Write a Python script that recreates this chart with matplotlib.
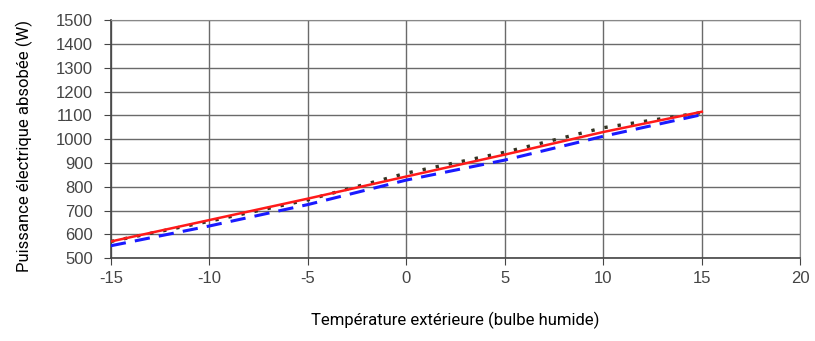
import matplotlib
matplotlib.use('Agg')
import matplotlib.pyplot as plt

plt.rcParams['axes.unicode_minus'] = False

# Data
temps = [-15, -10, -5, 0, 5, 10, 15]
power_red = [570, 660, 750, 843, 935, 1030, 1115]      # solid red
power_blue = [552, 635, 725, 828, 912, 1012, 1103]     # dashed blue
power_dots = [570, 655, 745, 857, 945, 1048, 1112]     # dotted black

x_ticks = [-15, -10, -5, 0, 5, 10, 15, 20]
y_ticks = list(range(500, 1501, 100))

LABEL_FONT = ['Roboto', 'DejaVu Sans']
TICK_FONT = ['Liberation Sans', 'DejaVu Sans']

fig = plt.figure(figsize=(8.15, 3.41), dpi=100)
ax = fig.add_axes([0.136, 0.243, 0.846, 0.698])

ax.plot(temps, power_dots, color='#333322', linestyle=(0, (1, 3)), linewidth=2.4, zorder=3)
ax.plot(temps, power_blue, color='#1a1aff', linestyle=(0, (5, 3)), linewidth=2.2, zorder=4)
ax.plot(temps, power_red, color='#ff1a1a', linestyle='-', linewidth=1.8, zorder=5)

ax.set_xlim(-15, 20)
ax.set_ylim(500, 1500)
ax.set_xticks(x_ticks)
ax.set_yticks(y_ticks)
ax.grid(True, color='#6a6a6a', linewidth=1.0)
ax.set_axisbelow(True)

for s in ['top', 'right']:
    ax.spines[s].set_color('#888888')
for s in ['left', 'bottom']:
    ax.spines[s].set_color('#444444')
    ax.spines[s].set_linewidth(1.2)

ax.tick_params(axis='both', length=5, color='#444444', labelcolor='#444444', labelsize=12)
for lab in ax.get_xticklabels() + ax.get_yticklabels():
    lab.set_family(TICK_FONT)
ax.tick_params(axis='x', pad=4)
ax.tick_params(axis='y', pad=8)

ax.set_xlabel('Température extérieure (bulbe humide)', family=LABEL_FONT, fontsize=12)
ax.set_ylabel('Puissance électrique absobée (W)', family=LABEL_FONT, fontsize=12)
ax.xaxis.set_label_coords(0.5, -0.225)
ax.yaxis.set_label_coords(-0.113, 0.47)

fig.savefig('out.png', dpi=100, facecolor='white')
